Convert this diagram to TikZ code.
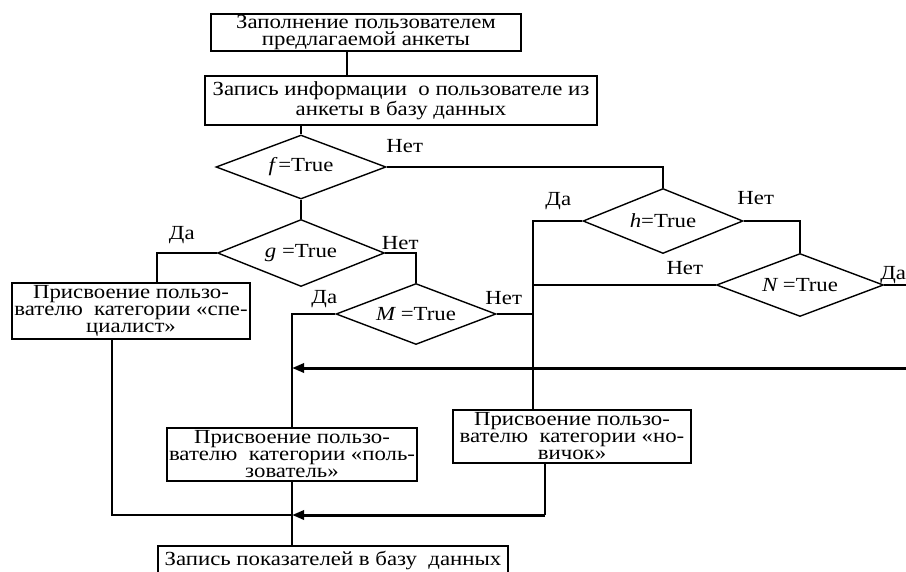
\documentclass[tikz,border=0pt]{standalone}
\usepackage{fontspec}
\setmainfont{Liberation Serif}[FakeStretch=1.14]
\usetikzlibrary{shapes.geometric, arrows.meta, positioning}
\tikzstyle{process} = [rectangle, draw=black, line width=1.4pt, align=center, inner sep=0pt, font=\fontsize{20}{17}\selectfont]
\tikzstyle{decision} = [diamond, draw=black, line width=1.4pt, inner sep=0pt, aspect=2.6, font=\fontsize{20}{17}\selectfont]
\tikzstyle{answer} = [inner sep=0pt, font=\fontsize{20}{17}\selectfont]
\tikzstyle{line} = [draw, line width=1.4pt]
\tikzstyle{backline} = [draw, line width=3pt, -{Triangle[length=12pt,width=9pt]}]

\begin{document}
\begin{tikzpicture}[x=1pt, y=1pt, node distance=60pt]
        \useasboundingbox (0,0) rectangle (906,-571);
        \clip (0,0) rectangle (906,-571);

        \node (fill) [process, minimum width=310pt, minimum height=37pt] at (366,-32.5) {Заполнение пользователем\\предлагаемой анкеты};
        \node (store) [process, below of=fill, node distance=68pt, xshift=35pt, minimum width=392pt, minimum height=49pt] {Запись информации\ \ о пользователе из\\анкеты в базу данных};
        \node (df) [decision, below of=store, node distance=66.5pt, xshift=-100pt, minimum width=170pt, minimum height=64pt] {{\itshape f}\,=True};
        \node (dg) [decision, below of=df, node distance=86pt, minimum width=167pt, minimum height=67pt] {{\itshape g} =True};
        \node (dm) [decision, below of=dg, node distance=61pt, xshift=115pt, minimum width=160pt, minimum height=61pt] {{\itshape M} =True};
        \node (dh) [decision, right of=df, node distance=362pt, yshift=-54pt, minimum width=160pt, minimum height=65pt] {{\itshape h}=True};
        \node (dn) [decision, below of=dh, node distance=64pt, xshift=137pt, minimum width=167pt, minimum height=63pt] {{\itshape N} =True};
        \node (spec) [process, left of=dg, node distance=170pt, yshift=-58pt, minimum width=238pt, minimum height=56pt] {Присвоение пользо-\\вателю\ \ категории «спе-\\циалист»};
        \node (user) [process, below of=dm, node distance=140.5pt, xshift=-124pt, minimum width=250pt, minimum height=53pt] {Присвоение пользо-\\вателю\ \ категории «поль-\\зователь»};
        \node (novice) [process, right of=user, node distance=280pt, yshift=18pt, minimum width=238pt, minimum height=53pt] {Присвоение пользо-\\вателю\ \ категории «но-\\вичок»};
        \node (save) [process, below of=user, node distance=105.5pt, xshift=41pt, minimum width=350pt, minimum height=28pt] {Запись показателей в базу\ \ данных};

        \coordinate (back) at (906,-368);
        \coordinate (merge) at (292,-515);
        \coordinate (hdown) at ([xshift=-39pt]novice.north);
        \coordinate (gyes) at ([xshift=26pt]spec.north);
        \coordinate (ndown) at ([xshift=-27pt]novice.south |- merge);

        % Draw edges
        \path [line] ([xshift=-19pt]fill.south) -- ([xshift=-19pt]fill.south |- store.north);
        \path [line] (df.north |- store.south) -- (df.north);
        \path [line] (df.east) -| node[answer, pos=0, xshift=18pt, yshift=21pt] {Нет} (dh.north);
        \path [line] (df.south) -- (dg.north);
        \path [line] (dg.west) -| node[answer, pos=0, xshift=-35pt, yshift=18pt] {Да} (gyes);
        \path [line] (dg.east) -| node[answer, pos=0, xshift=15pt, yshift=10pt] {Нет} (dm.north);
        \path [line] (dm.west) -| node[answer, pos=0, xshift=-11pt, yshift=15pt] {Да} (user.north);
        \path [line] (dm.east) -- node[answer, pos=0, xshift=7pt, yshift=16pt] {Нет} (dm.east -| hdown);
        \path [line] (dh.west) -| node[answer, pos=0, xshift=-24pt, yshift=20pt] {Да} (hdown);
        \path [line] (dh.east) -| node[answer, pos=0, xshift=12pt, yshift=23pt] {Нет} (dn.north);
        \path [line] (dn.west) -- node[answer, pos=0, xshift=-31pt, yshift=17pt] {Нет} (dn.west -| hdown);
        \path [line] (dn.east) -- node[answer, pos=0, xshift=9pt, yshift=10pt] {Да} (dn.east -| back);
        \path [backline] (back) -- (back -| user.north);
        \path [line] ([xshift=-19pt]spec.south) |- (merge);
        \path [line] ([xshift=-27pt]novice.south) -- (ndown);
        \path [backline] (ndown) -- (merge);
        \path [line] (user.south) -- (user.south |- save.north);

\end{tikzpicture}
\end{document}
